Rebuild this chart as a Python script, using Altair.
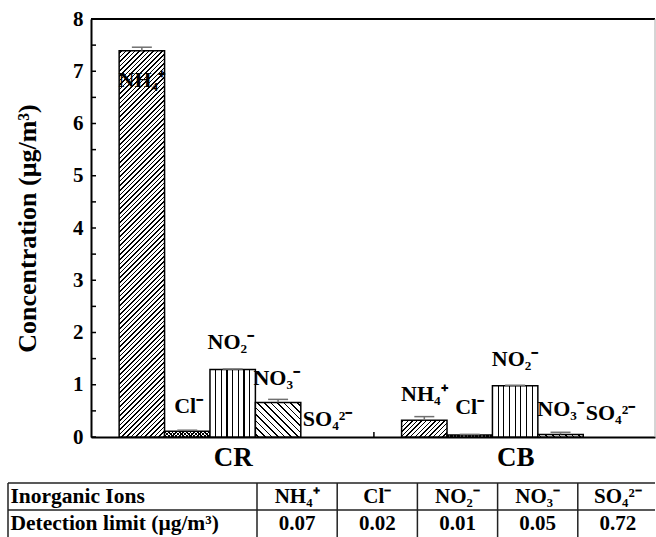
import math
import altair as alt
import numpy as np
import pandas as pd

# ---------------- data ----------------
groups = ["CR", "CB"]
ions = ["NH₄⁺", "Cl⁻", "NO₂⁻", "NO₃⁻", "SO₄²⁻"]
cr_values = [7.39, 0.11, 1.29, 0.66, 0.0]
cb_values = [0.32, 0.04, 0.98, 0.05, 0.0]
cr_errors = [0.07, 0.02, 0.01, 0.06, 0.0]
cb_errors = [0.07, 0.01, 0.01, 0.04, 0.0]
table_row_headers = ["Inorganic Ions", "Detection limit (μg/m³)"]
detection_limits = ["0.07", "0.02", "0.01", "0.05", "0.72"]
y_tick_values = [0, 1, 2, 3, 4, 5, 6, 7, 8]

# annotation placement (label centre, concentration units / bar-width offset)
cr_label_y = [6.84, 0.60, 1.81, 1.12, 0.35]
cb_label_y = [0.83, 0.58, 1.50, 0.54, 0.45]
cr_label_dx = [0.0, 0.03, -0.04, -0.03, 0.09]
cb_label_dx = [0.0, 0.0, 0.0, 0.0, 0.10]

# ---------------- layout / style ----------------
FONT = "Liberation Serif"
PLOT_W, PLOT_H = 564, 418
Y_MAX = 8
X_MAX = 12.42
MARGIN = 0.62
GAP = 1.22
CAP = 0.22
XPX = PLOT_W / X_MAX
YPX = PLOT_H / Y_MAX

TABLE_COL_PX = 80.2
TABLE_FIRST_PX = 249.0
TABLE_OFFSET_PX = 166.0
T_LEFT = -TABLE_FIRST_PX / TABLE_COL_PX
T_DOM = [-TABLE_OFFSET_PX / TABLE_COL_PX, (PLOT_W - TABLE_OFFSET_PX) / TABLE_COL_PX]

values = [cr_values, cb_values]
errors = [cr_errors, cb_errors]
label_y = [cr_label_y, cb_label_y]
label_dx = [cr_label_dx, cb_label_dx]

rows = []
for gi, g in enumerate(groups):
    for ii, ion in enumerate(ions):
        x0 = MARGIN + gi * (len(ions) + GAP) + ii
        v = values[gi][ii]
        e = errors[gi][ii]
        rows.append(dict(group=g, ion=ion, ii=ii, x0=x0, x1=x0 + 1, xc=x0 + 0.5,
                         value=v, base=0.0, err=e, hi=v + e,
                         cl=x0 + 0.5 - CAP, cr=x0 + 0.5 + CAP,
                         lx=x0 + 0.5 + label_dx[gi][ii], ly=label_y[gi][ii]))
df = pd.DataFrame(rows)

scale_x = alt.Scale(domain=[0, X_MAX], nice=False, zero=False)
scale_y = alt.Scale(domain=[0, Y_MAX], nice=False)

sep = MARGIN + len(ions) + GAP / 2
centers = [MARGIN + len(ions) / 2, MARGIN + len(ions) + GAP + len(ions) / 2]
x_axis = alt.Axis(values=centers, labelExpr=f"datum.value < {sep} ? '{groups[0]}' : '{groups[1]}'",
                  ticks=False, tickSize=0, grid=False, domain=True, domainColor="black", domainWidth=2,
                  labelFont=FONT, labelFontSize=27, labelFontWeight="bold", labelColor="black",
                  labelPadding=7, title=None, labelFlush=False)
y_axis = alt.Axis(values=y_tick_values, ticks=False, tickSize=0, grid=False, domain=True,
                  domainColor="black", domainWidth=2,
                  labelFont=FONT, labelFontSize=21, labelFontWeight="bold", labelColor="black",
                  labelPadding=8, title="Concentration (μg/m³)", titleFont=FONT, titleFontSize=26,
                  titleFontWeight="bold", titleColor="black", titlePadding=32)


def X(field):
    return alt.X(field, scale=scale_x, axis=x_axis)


def Y(field):
    return alt.Y(field, scale=scale_y, axis=y_axis)


def stops_from(centers_, half, fg, bg):
    st = [(0.0, bg)]
    for c in centers_:
        a = max(0.0, c - half)
        b = min(1.0, c + half)
        if b <= 0 or a >= 1:
            continue
        st += [(a, bg), (a, fg), (b, fg), (b, bg)]
    st.append((1.0, bg))
    return [alt.GradientStop(offset=round(o, 6), color=c) for o, c in st]


def diag(w, h, spacing, lw, forward=True, fg="black", bg="white"):
    D = (w + h) / math.sqrt(2)
    k = (w + h) / (w * w + h * h)
    step = spacing / math.sqrt(2) / D
    n = int(1 / step) + 2
    cs = [step * (j + 0.5) for j in range(n)]
    half = lw / 2 / D
    if forward:
        x1, y1, x2, y2 = 0, 0, k * w, k * h
    else:
        x1, y1, x2, y2 = 0, 1, k * w, 1 - k * h
    return alt.LinearGradient(gradient="linear", stops=stops_from(cs, half, fg, bg),
                              x1=x1, y1=y1, x2=x2, y2=y2)


def vertical(w, ndiv, lw, fg="black", bg="white"):
    cs = [j / ndiv for j in range(1, ndiv)]
    return alt.LinearGradient(gradient="linear", stops=stops_from(cs, lw / 2 / w, fg, bg),
                              x1=0, y1=0, x2=1, y2=0)


def fills_for(ii, w, h):
    if ii == 0:
        return [diag(w, h, 4.6, 1.1, True)]
    if ii == 1:
        return [diag(w, h, 3.6, 1.0, True),
                diag(w, h, 3.6, 1.0, False, bg="rgba(255,255,255,0)")]
    if ii == 2:
        return [vertical(w, 8, 1.2)]
    if ii == 3:
        return [diag(w, h, 6.6, 1.1, False)]
    return ["white"]


layers = []

# bars with hatch patterns
for gi, g in enumerate(groups):
    for ii in range(len(ions)):
        v = values[gi][ii]
        if v <= 0:
            continue
        w = XPX
        h = v * YPX
        fills = fills_for(ii, w, h)
        base = alt.Chart(df).transform_filter((alt.datum.group == g) & (alt.datum.ii == ii))
        for j, f in enumerate(fills):
            last = j == len(fills) - 1
            kw = dict(fill=f)
            if last:
                kw.update(stroke="black", strokeWidth=1.5)
            else:
                kw.update(strokeWidth=0)
            layers.append(base.mark_rect(**kw).encode(
                x=X("x0:Q"), x2="x1", y=Y("value:Q"), y2="base"))

# error bars (upper)
err_src = alt.Chart(df).transform_filter(alt.datum.err > 0)
layers.append(err_src.mark_rule(color="#707070", strokeWidth=1.5).encode(
    x=X("xc:Q"), y=Y("value:Q"), y2="hi"))
layers.append(err_src.mark_rule(color="#707070", strokeWidth=1.5).encode(
    x=X("cl:Q"), x2="cr", y=Y("hi:Q")))

# ion labels
layers.append(alt.Chart(df).mark_text(font=FONT, fontWeight="bold", fontSize=22,
                                      align="center", baseline="middle", color="black").encode(
    x=X("lx:Q"), y=Y("ly:Q"), text="ion:N"))

# inward y ticks
ticks_df = pd.DataFrame({"t": np.arange(0, Y_MAX + 0.01, 0.5)})
layers.append(alt.Chart(ticks_df).mark_rule(color="black", strokeWidth=1.5).encode(
    y=Y("t:Q"), x=alt.value(0), x2=alt.value(5)))

# frame top / right
frame_df = pd.DataFrame({"xa": [0.0], "xb": [X_MAX], "ya": [0.0], "yb": [float(Y_MAX)]})
layers.append(alt.Chart(frame_df).mark_rule(color="black", strokeWidth=2).encode(
    x=X("xa:Q"), x2="xb", y=Y("yb:Q")))
layers.append(alt.Chart(frame_df).mark_rule(color="#aaaaaa", strokeWidth=1).encode(
    x=X("xb:Q"), y=Y("ya:Q"), y2="yb"))

# separator tick on x axis
sep_df = pd.DataFrame({"sx": [sep], "y0": [0.0], "y1": [5 / YPX]})
layers.append(alt.Chart(sep_df).mark_rule(color="black", strokeWidth=1.5).encode(
    x=X("sx:Q"), y=Y("y0:Q"), y2="y1"))

main = alt.layer(*layers).properties(width=PLOT_W, height=PLOT_H)

# ---------------- table ----------------
tx = alt.Scale(domain=T_DOM, nice=False, zero=False)
ty = alt.Scale(domain=[2, 0], nice=False, zero=False)
h_df = pd.DataFrame({"y": [0.0, 1.0], "xa": [T_LEFT, T_LEFT], "xb": [T_DOM[1], T_DOM[1]]})
v_df = pd.DataFrame({"x": [T_LEFT] + [float(i) for i in range(len(ions))], "ya": 0.0, "yb": 2.0})
cells = []
for i, ion in enumerate(ions):
    cells.append(dict(x=i + 0.5, y=0.5, text=ion))
    cells.append(dict(x=i + 0.5, y=1.5, text=detection_limits[i]))
cell_df = pd.DataFrame(cells)
head_df = pd.DataFrame({"x": [T_LEFT + 0.03] * 2, "y": [0.5, 1.5], "text": table_row_headers})

t_layers = [
    alt.Chart(h_df).mark_rule(color="#222222", strokeWidth=1.5).encode(
        x=alt.X("xa:Q", scale=tx, axis=None), x2="xb", y=alt.Y("y:Q", scale=ty, axis=None)),
    alt.Chart(v_df).mark_rule(color="#222222", strokeWidth=1.5).encode(
        x=alt.X("x:Q", scale=tx, axis=None), y=alt.Y("ya:Q", scale=ty, axis=None), y2="yb"),
    alt.Chart(cell_df).mark_text(font=FONT, fontWeight="bold", fontSize=21, align="center",
                                 baseline="middle", color="black").encode(
        x=alt.X("x:Q", scale=tx, axis=None), y=alt.Y("y:Q", scale=ty, axis=None), text="text:N"),
    alt.Chart(head_df).mark_text(font=FONT, fontWeight="bold", fontSize=21.5, align="left",
                                 baseline="middle", color="black").encode(
        x=alt.X("x:Q", scale=tx, axis=None), y=alt.Y("y:Q", scale=ty, axis=None), text="text:N"),
]
table = alt.layer(*t_layers).properties(width=PLOT_W, height=54)

chart = alt.vconcat(main, table, spacing=46, bounds="flush").properties(
    padding={"left": 7, "top": 8, "right": 0, "bottom": 0},
    background="white",
).configure_view(strokeWidth=0)

chart.save("out.html", embed_options={"renderer": "svg", "actions": False})
